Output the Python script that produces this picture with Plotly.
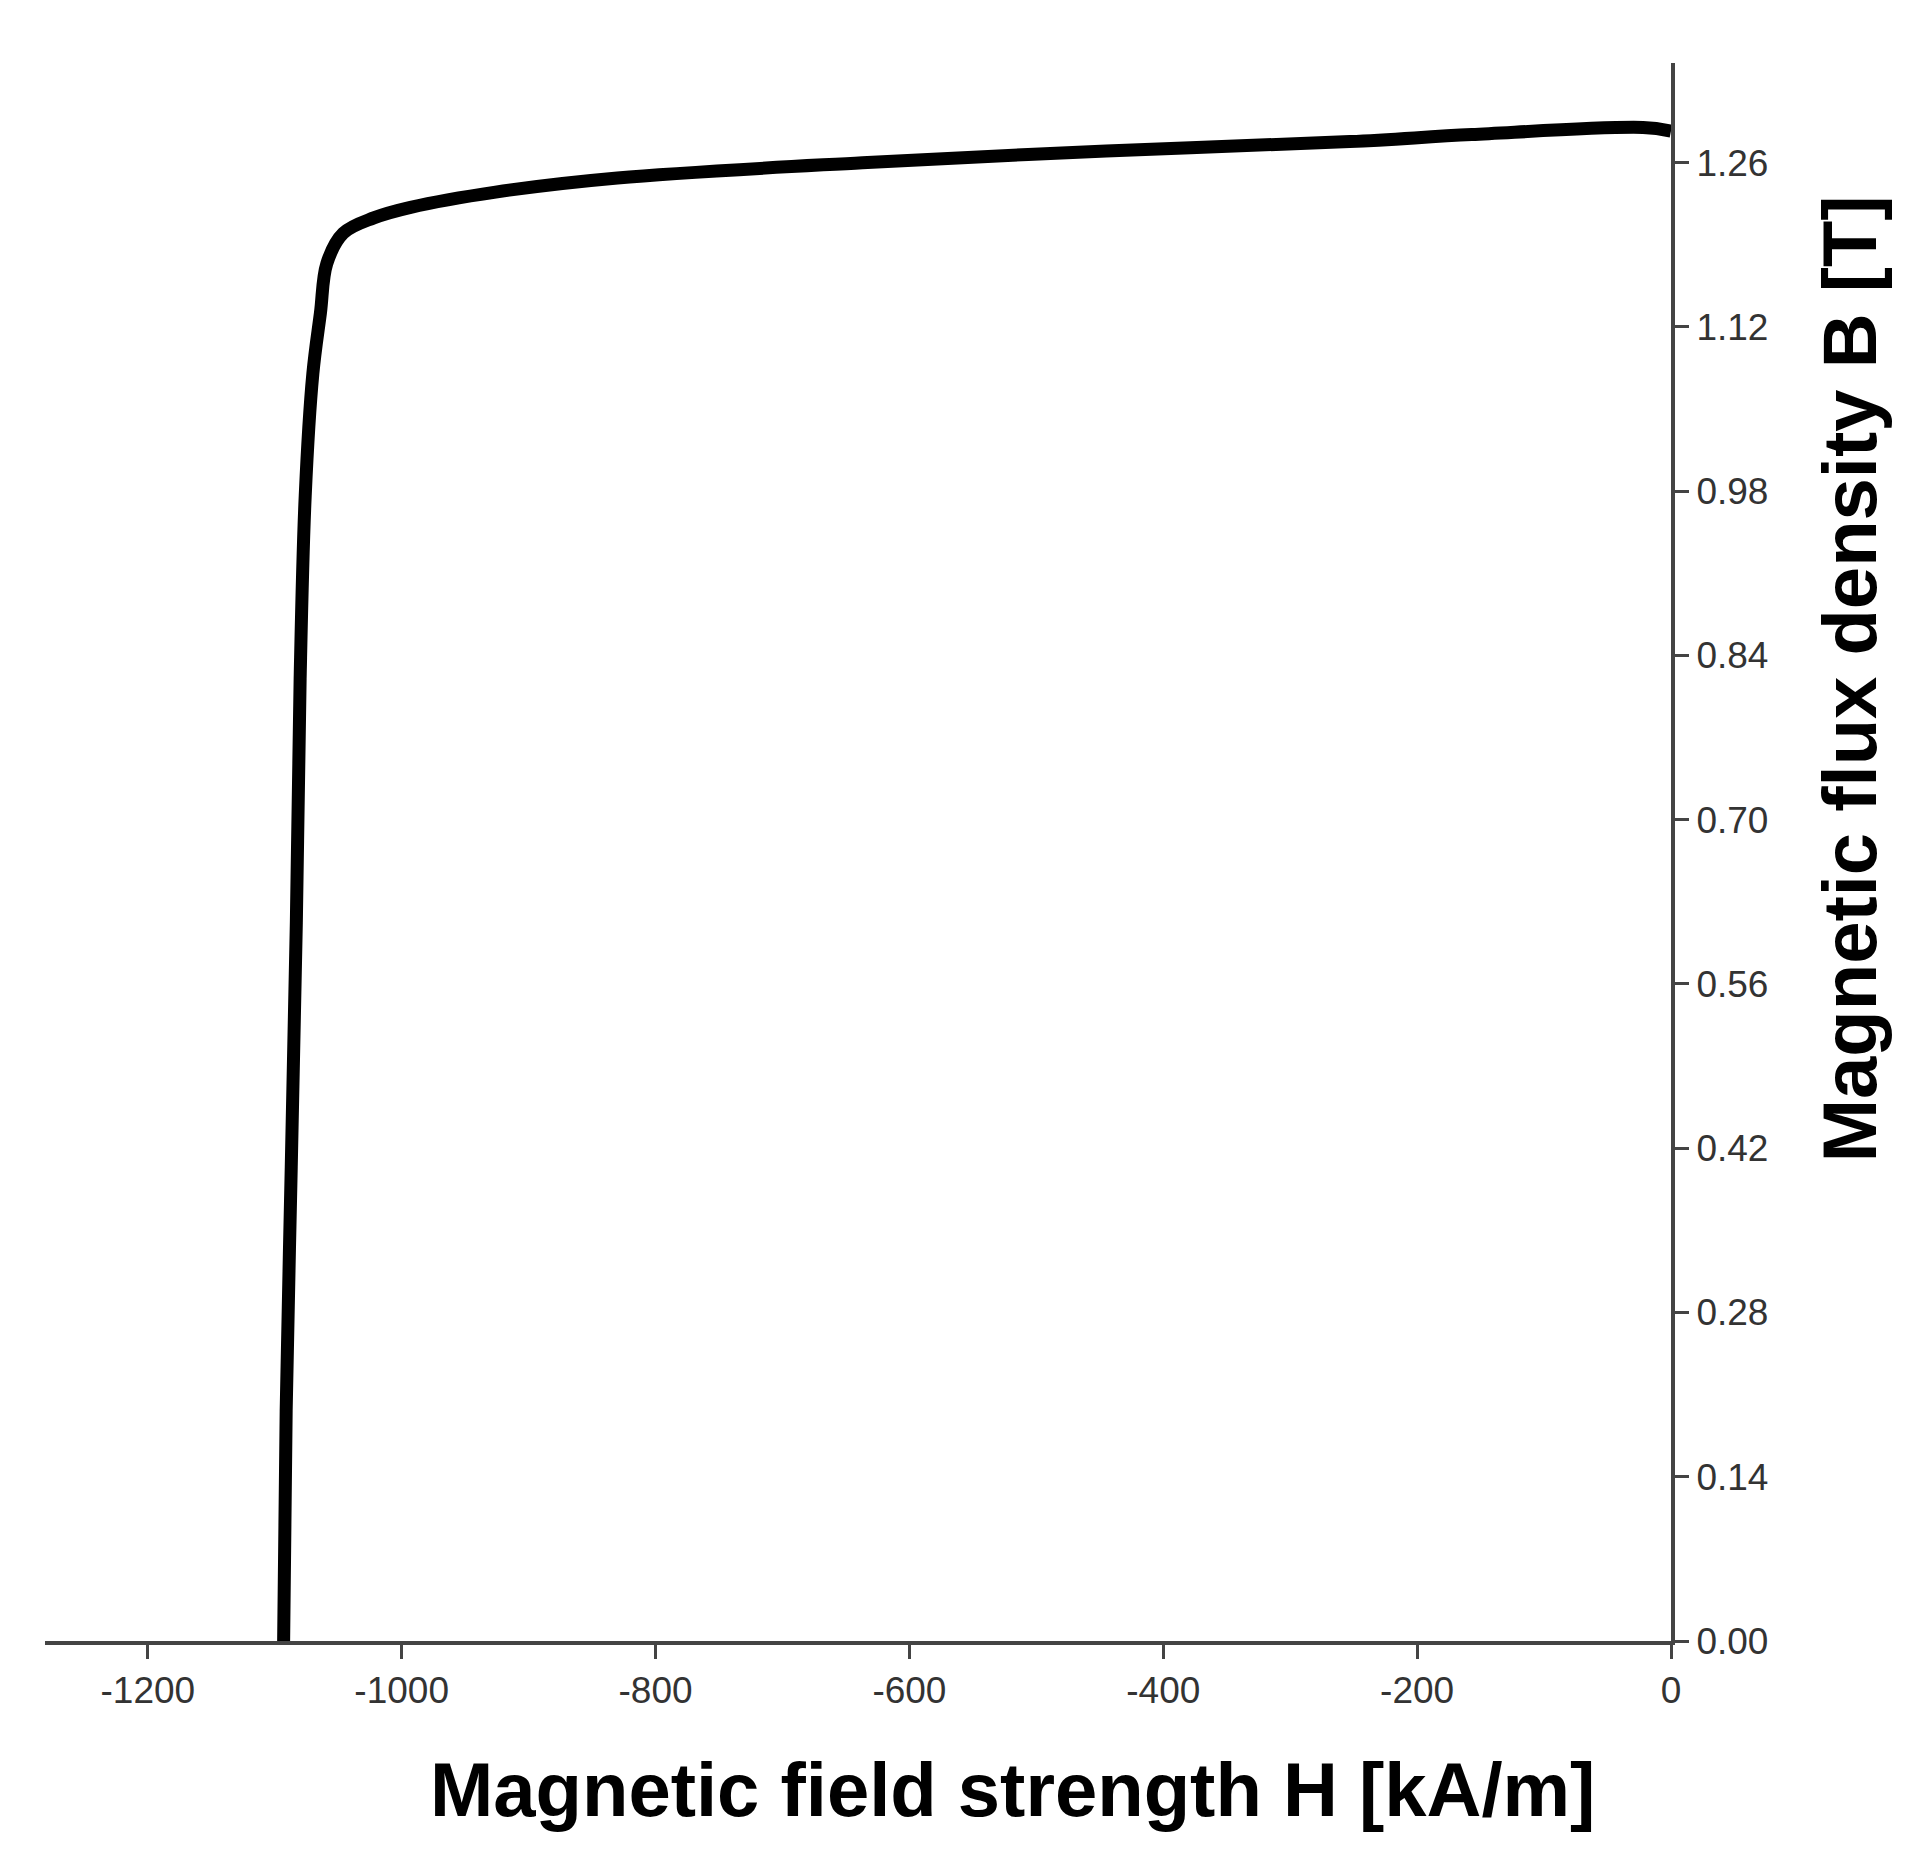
import plotly.graph_objects as go

H = [-1093, -1091, -1087, -1083, -1080, -1076, -1070, -1064, -1059, -1046, -1022, -993, -926, -830, -637, -445, -253, -157, -22, 0]
B = [0.0, 0.196, 0.404, 0.612, 0.82, 0.976, 1.08, 1.132, 1.174, 1.20, 1.213, 1.222, 1.235, 1.247, 1.26, 1.27, 1.278, 1.284, 1.29, 1.287]
x_ticks = [-1200, -1000, -800, -600, -400, -200, 0]
y_ticks = [0.0, 0.14, 0.28, 0.42, 0.56, 0.70, 0.84, 0.98, 1.12, 1.26]

fig = go.Figure(go.Scatter(x=H, y=B, mode="lines", line=dict(color="black", width=13, shape="spline"), hoverinfo="skip"))
tickfont = dict(family="Liberation Sans", size=37, color="#333")
fig.update_layout(
    width=1911, height=1856, plot_bgcolor="white", paper_bgcolor="white", showlegend=False,
    margin=dict(l=37, r=248, t=55, b=223),
    xaxis=dict(range=[-1281, 0], tickvals=x_ticks, ticktext=[str(v) for v in x_ticks], showgrid=False, zeroline=False,
               showline=True, linecolor="#444", linewidth=4, ticks="outside", ticklen=14, tickwidth=3, tickcolor="#444",
               tickfont=tickfont),
    yaxis=dict(range=[0, 1.345], side="right", tickvals=y_ticks, ticktext=["%.2f" % v for v in y_ticks], showgrid=False,
               zeroline=False, showline=True, linecolor="#444", linewidth=4, ticks="outside", ticklen=14, tickwidth=3,
               tickcolor="#444", tickfont=tickfont),
    annotations=[
        dict(text="<b>Magnetic field strength H [kA/m]</b>", xref="paper", yref="paper", x=0.595, y=-0.094, yanchor="middle",
             showarrow=False, font=dict(family="Liberation Sans", size=76, color="black")),
        dict(text="<b>Magnetic flux density B [T]</b>", xref="paper", yref="paper", x=1.11, y=0.61, textangle=-90,
             xanchor="center", yanchor="middle", showarrow=False, font=dict(family="Liberation Sans", size=76, color="black")),
    ],
)
fig.write_html("out.html")
